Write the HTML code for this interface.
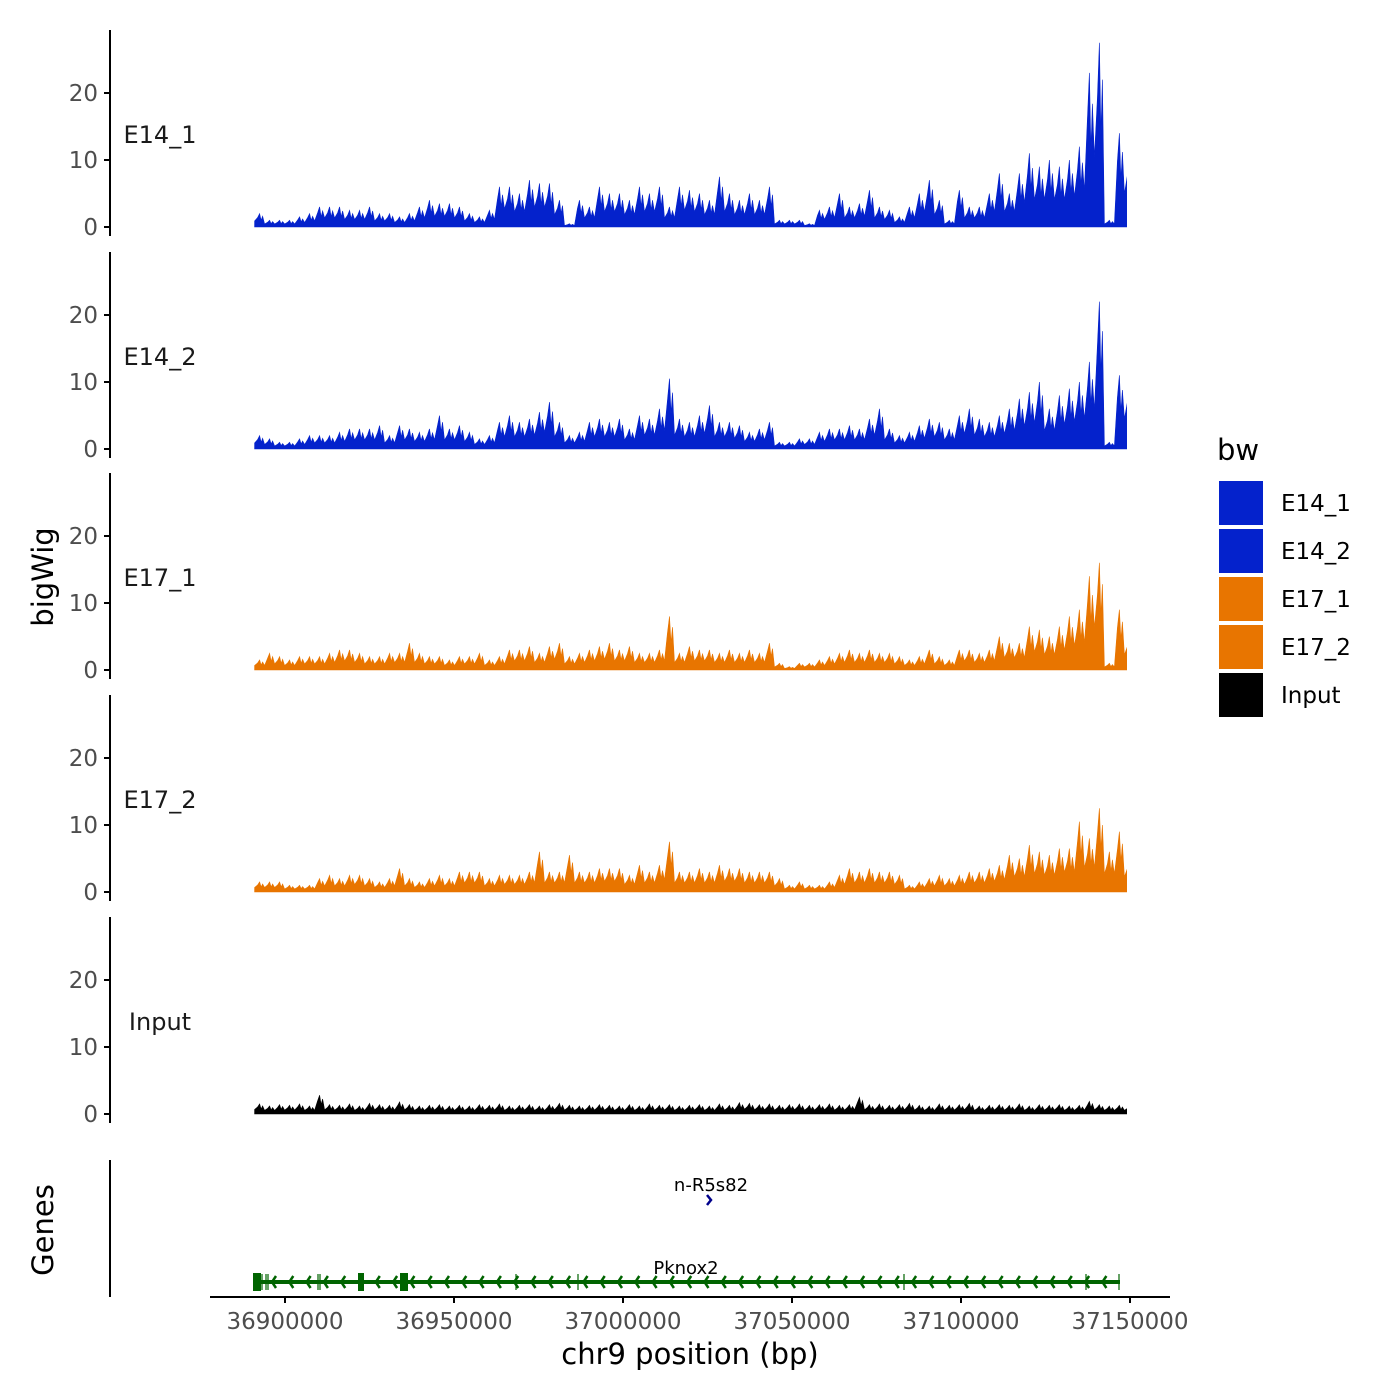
<!DOCTYPE html>
<html><head><meta charset="utf-8"><style>
html,body{margin:0;padding:0;background:#fff;}
svg{display:block;font-family:"DejaVu Sans","Liberation Sans",sans-serif;}
</style></head><body>
<svg id="chart" width="1400" height="1400" viewBox="0 0 1400 1400" xmlns="http://www.w3.org/2000/svg">
<defs><clipPath id="plotclip"><rect x="254" y="0" width="873" height="1400"/></clipPath></defs>
</svg>
<script>
const trackNames = ["E14_1","E14_2","E17_1","E17_2","Input"];
const trackColors = ["#0422cc","#0422cc","#e87500","#e87500","#000000"];
const yTicks = [0,10,20];
const xTicks = [36900000,36950000,37000000,37050000,37100000,37150000];
const xStart = 36891000, xEnd = 37149000;
const binBp = 2958;
const e14_1 = [2,1,1,1,1.5,2,3,3,3,2.5,2.5,3,2,2,1.5,2,3,4,3.5,3.5,3,2,1.5,2.5,6,6,5,7,6.5,6.5,4,0.5,4,3,6,5,5,4,6,5,6,3,6,5.5,5,4,7.5,5,4,5,4,6,1,1,1,0.5,2.5,3,5,3,3.5,5.5,3,2.5,1.5,3,5,7,4,1,5.5,3,3,5,8,5,8,11,9,10,9,10,12,23,27.5,1,14,11,6];
const e14_2 = [2,1.5,1,1,1.5,2,2,2,2.5,3,3,3,3.5,2,3.5,3,2.5,3,5,3,3.5,2.5,1.5,2,4,5,4,4.5,5.5,7,4,2,2.5,4,4.5,4,4.5,3,5,4.5,6,10.5,4.5,4,5,6.5,4,4,3.5,2.5,3,4,1,1,1.5,1.5,2.5,3,3,3.5,3,4.5,6,3,2,2.5,3.5,4.5,4,3,5,6,4.5,4,5,6,7.5,8.5,10,6,8,9,10,13,22,1,11,10,6];
const e17_1 = [1.5,2.5,2,1.5,2,2,2,2.5,3,3,2.5,2,2,2.5,2.5,4,2.5,2,2,1.5,2,2,2.5,1.5,2,3,3,3.5,2.5,3.5,4,2,2.5,3,3.5,4,3,3.5,2.5,2.5,3,8,2.5,3.5,3,3,2.5,3,2.5,3,2.5,4,1,0.5,1,1,1.5,2,2.5,3,2.5,3,2.5,2.5,2,1.5,2,3,2,1.5,3,3,2.5,3,5,4,4,6.5,6,5,6.5,8,9,14,16,1,9,5];
const e17_2 = [1.5,1.5,1.5,1,1,1,2,2.5,2,2.5,2.5,2,1.5,2,3.5,2,1.5,2,2.5,2,3,3,3,2,2.5,2.5,2.5,3,6,3,3,5.5,3,3,3.5,3.5,3.5,2.5,4,3,4,7.5,3,3,3.5,3,4,3.5,3.5,3,3,3,2,1,1.5,1,1,1.5,2.5,3.5,3,3.5,3,3,2.5,1,1.5,2,2.5,2,2.5,3,3,3.5,4,5.5,5,7,6,5.5,6.5,6.5,10.5,8,12.5,6,9,5];
const input = [1.5,1.2,1.4,1.3,1.5,1.2,2.8,1.4,1.3,1.5,1.2,1.6,1.4,1.3,1.8,1.4,1.2,1.3,1.4,1.2,1.3,1.2,1.4,1.3,1.5,1.2,1.3,1.4,1.2,1.4,1.6,1.3,1.2,1.3,1.4,1.3,1.2,1.4,1.2,1.5,1.3,1.4,1.2,1.3,1.4,1.2,1.5,1.3,1.7,1.6,1.4,1.5,1.3,1.4,1.5,1.3,1.4,1.5,1.3,1.4,2.5,1.4,1.5,1.3,1.4,1.6,1.3,1.2,1.5,1.3,1.4,1.6,1.2,1.3,1.4,1.3,1.5,1.2,1.4,1.3,1.4,1.2,1.3,1.9,1.4,1.2,1.3,1.2];
const seriesData = [e14_1,e14_2,e17_1,e17_2,input];

const svg = document.getElementById('chart');
const NS = "http://www.w3.org/2000/svg";
function mk(tag, attrs, parent){const e=document.createElementNS(NS,tag);for(const k in attrs)e.setAttribute(k,attrs[k]);(parent||svg).appendChild(e);return e;}
const xScale = v => 285 + (v-36900000)*(169/50000);
const panelZero = [227,449,670,892,1114];
const yUnit = 6.7;
const plotL = xScale(xStart), plotR = xScale(xEnd);
const w = xScale(xStart+binBp)-plotL;

seriesData.forEach((vals,t)=>{
  const z = panelZero[t];
  const yS = v => z - v*yUnit;
  const g = mk('g',{});
  
  
  const ax = mk('line',{x1:110,x2:110,y1:z-197,y2:z+9,stroke:'#000','stroke-width':2},g);
  
  
  yTicks.forEach(tv=>{
    mk('line',{x1:104,x2:110,y1:yS(tv),y2:yS(tv),stroke:'#000','stroke-width':2},g);
    const tx = mk('text',{x:98,y:yS(tv)+8,'text-anchor':'end','font-size':23,fill:'#4d4d4d'},g);
    tx.textContent = tv;
    
    
  });
  const lab = mk('text',{x:160,y:z-84,'text-anchor':'middle','font-size':24,fill:'#1a1a1a'},g);
  lab.textContent = trackNames[t];
  
  
  const n = vals.length;
  let d = 'M'+plotL+','+z;
  vals.forEach((v,i)=>{
    const x0 = plotL+i*w;
    const lo = Math.min(v, i>0?vals[i-1]:v)*0.45;
    d += ' L'+(x0).toFixed(1)+','+yS(lo).toFixed(1);
    d += ' L'+(x0+w*0.3).toFixed(1)+','+yS(v*0.7).toFixed(1);
    d += ' L'+(x0+w*0.5).toFixed(1)+','+yS(v).toFixed(1);
    d += ' L'+(x0+w*0.65).toFixed(1)+','+yS(v*0.5).toFixed(1);
    d += ' L'+(x0+w*0.8).toFixed(1)+','+yS(v*0.8).toFixed(1);
  });
  const xe = plotL+n*w;
  d += ' L'+xe+','+yS(vals[n-1]*0.6)+' L'+xe+','+z+' Z';
  const p = mk('path',{d:d,fill:trackColors[t],stroke:trackColors[t],'stroke-width':0.6,'clip-path':'url(#plotclip)'},g);
  
  
});

const yt = mk('text',{x:53,y:577,transform:'rotate(-90 53 577)','text-anchor':'middle','font-size':29,fill:'#000'});
yt.textContent='bigWig';


const gt = mk('text',{x:53,y:1230,transform:'rotate(-90 53 1230)','text-anchor':'middle','font-size':29,fill:'#000'});
gt.textContent='Genes';



const ga = mk('line',{x1:110,x2:110,y1:1160,y2:1297,stroke:'#000','stroke-width':2});


const xa = mk('line',{x1:210,x2:1170,y1:1297,y2:1297,stroke:'#000','stroke-width':2});


xTicks.forEach(v=>{
  mk('line',{x1:xScale(v),x2:xScale(v),y1:1297,y2:1303,stroke:'#000','stroke-width':2});
  const tx = mk('text',{x:xScale(v),y:1329,'text-anchor':'middle','font-size':23,fill:'#4d4d4d'});
  tx.textContent = v;
  
  
});
const xt = mk('text',{x:690,y:1364,'text-anchor':'middle','font-size':29,fill:'#000'});
xt.textContent='chr9 position (bp)';



const gene = mk('g',{});


mk('line',{x1:254,x2:1120,y1:1282,y2:1282,stroke:'#006400','stroke-width':4},gene);
[[253,8],[358,6],[400,8]].forEach(([x,w])=>mk('rect',{x:x,y:1273,width:w,height:18,fill:'#006400'},gene));
[262,266,268,318,320,404,516,578,904,1086,1119].forEach(x=>mk('line',{x1:x,x2:x,y1:1274,y2:1290,stroke:'#006400','stroke-width':1.2},gene));
for(let x=272;x<1118;x+=17.3){
  mk('path',{d:'M'+(x+4)+',1276 L'+x+',1282 L'+(x+4)+',1288',fill:'none',stroke:'#006400','stroke-width':2.5},gene);
}
const pk = mk('text',{x:686,y:1274,'text-anchor':'middle','font-size':18,fill:'#000'});
pk.textContent='Pknox2';


const nr = mk('text',{x:711,y:1191,'text-anchor':'middle','font-size':18,fill:'#000'});
nr.textContent='n-R5s82';


const nrg = mk('path',{d:'M707,1195 L711,1200 L707,1205',fill:'none',stroke:'#00008b','stroke-width':2.5});



const lg = mk('g',{});


const lt = mk('text',{x:1217,y:460,'font-size':29,fill:'#000'},lg);
lt.textContent='bw';
trackNames.forEach((nm,i)=>{
  const y = 481 + i*48;
  const r = mk('rect',{x:1219,y:y,width:44,height:44,fill:trackColors[i]},lg);
  
  
  const tx = mk('text',{x:1281,y:y+30,'font-size':23,fill:'#000'},lg);
  tx.textContent = nm;
  
  
});
</script>
</body></html>
